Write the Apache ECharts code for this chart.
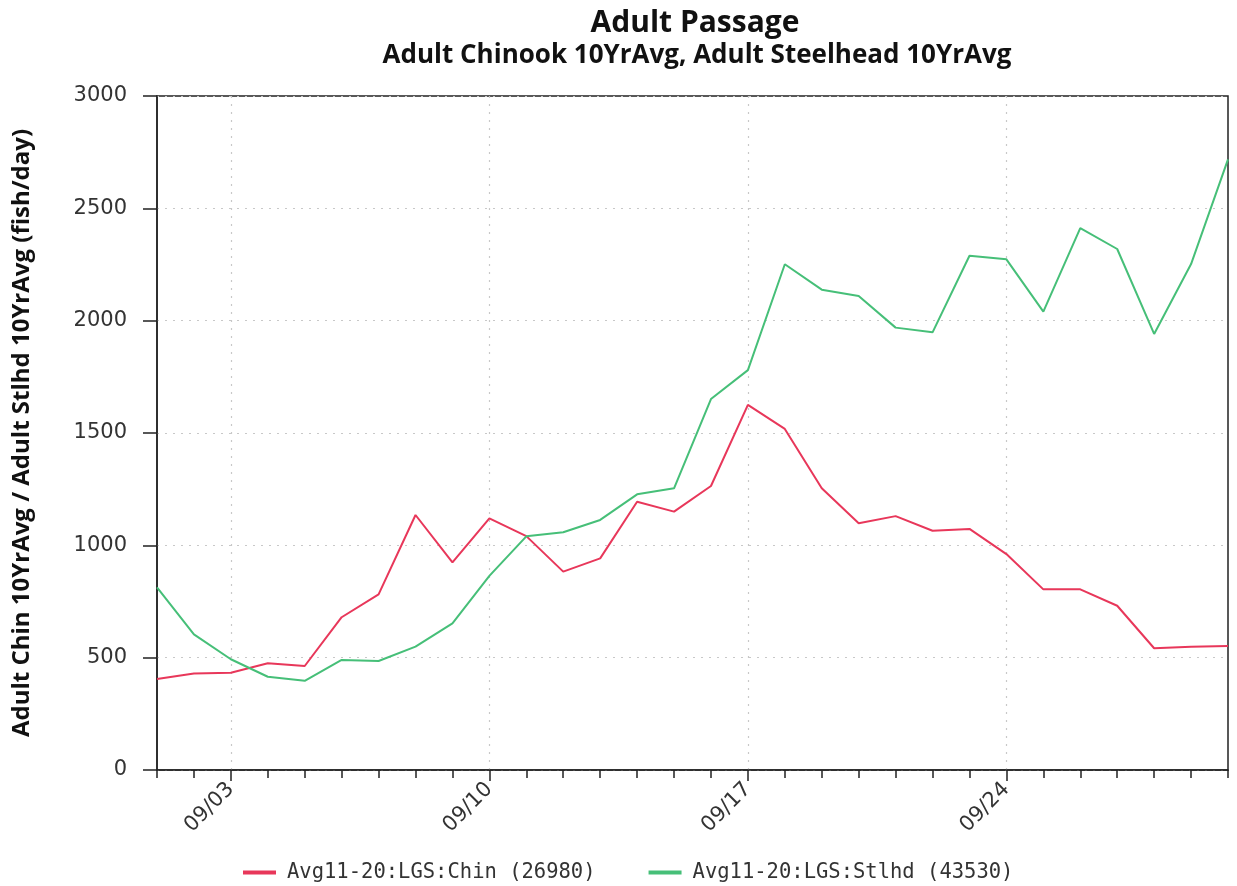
<!DOCTYPE html>
<html>
<head>
<meta charset="utf-8">
<script src="https://cdn.jsdelivr.net/npm/echarts@6/dist/echarts.min.js"></script>
<style>
html,body{margin:0;padding:0;background:#fff;}
#chart{width:1237px;height:886px;}
</style>
</head>
<body>
<div id="chart"></div>
<script>
var categories = ['09/01','09/02','09/03','09/04','09/05','09/06','09/07','09/08','09/09','09/10',
  '09/11','09/12','09/13','09/14','09/15','09/16','09/17','09/18','09/19','09/20',
  '09/21','09/22','09/23','09/24','09/25','09/26','09/27','09/28','09/29','09/30'];
var chinook = [405,430,433,475,463,680,782,1135,924,1120,
  1041,883,942,1194,1150,1264,1625,1518,1254,1098,
  1130,1065,1073,961,804,804,731,542,549,552];
var steelhead = [813,604,493,415,397,490,485,549,653,864,
  1040,1058,1113,1227,1254,1651,1780,2251,2138,2110,
  1969,1948,2289,2273,2040,2412,2319,1941,2252,2718];
var seriesNames = ['Avg11-20:LGS:Chin (26980)', 'Avg11-20:LGS:Stlhd (43530)'];
var yTicks = {min: 0, max: 3000, interval: 500};

var labelEvery = function (i) { return i % 7 === 2; };
var chart = echarts.init(document.getElementById('chart'), null, {renderer: 'canvas'});
var tickFont = 'DejaVu Sans';
var monoFont = 'DejaVu Sans Mono';
var titleFont = 'Open Sans';
chart.setOption({
  animation: false,
  backgroundColor: '#ffffff',
  title: [
    {text: 'Adult Passage', left: 690, top: 3, textAlign: 'center',
     textStyle: {fontFamily: titleFont, fontWeight: 'bold', fontSize: 30, color: '#111'}},
    {text: 'Adult Chinook 10YrAvg, Adult Steelhead 10YrAvg', left: 692, top: 38, textAlign: 'center',
     textStyle: {fontFamily: titleFont, fontWeight: 'bold', fontSize: 26, color: '#111'}}
  ],
  legend: {
    left: 243, top: 862, padding: 0, itemWidth: 33, itemHeight: 4, itemGap: 53, icon: 'rect',
    textStyle: {fontFamily: monoFont, fontSize: 20.5, color: '#333', padding: [0, 0, 0, 6]},
    data: seriesNames
  },
  grid: {left: 157, right: 9, top: 96, bottom: 116, show: true, borderColor: '#222', borderWidth: 1.5,
    containLabel: false, outerBoundsMode: 'none'},
  xAxis: [{
    type: 'category', data: categories, boundaryGap: false,
    axisLine: {show: true, lineStyle: {color: '#222', width: 1.5}},
    axisTick: {show: true, interval: 0, length: 8, lineStyle: {color: '#222', width: 1.5}},
    axisLabel: {interval: labelEvery, rotate: 45, fontFamily: tickFont, fontSize: 21, color: '#333', margin: 16},
    splitLine: {show: true, interval: labelEvery, lineStyle: {color: '#c8c8c8', type: [2, 6], width: 1.2}}
  }, {
    type: 'category', data: categories, boundaryGap: false, position: 'bottom',
    axisLine: {show: false},
    axisTick: {show: true, interval: labelEvery, length: 11, lineStyle: {color: '#222', width: 1.5}},
    axisLabel: {show: false}, splitLine: {show: false}
  }],
  yAxis: {
    type: 'value', min: yTicks.min, max: yTicks.max, interval: yTicks.interval,
    name: 'Adult Chin 10YrAvg / Adult Stlhd 10YrAvg (fish/day)',
    nameLocation: 'middle', nameRotate: 90, nameGap: 123,
    nameTextStyle: {fontFamily: titleFont, fontWeight: 'bold', fontSize: 24, color: '#111'},
    axisLine: {show: true, lineStyle: {color: '#222', width: 1.5}},
    axisTick: {show: true, length: 14, lineStyle: {color: '#222', width: 1.5}},
    axisLabel: {fontFamily: tickFont, fontSize: 21, color: '#333', margin: 30,
      formatter: function (v) { return String(v); }},
    splitLine: {show: true, lineStyle: {color: '#c8c8c8', type: [2, 6], width: 1.2}}
  },
  series: [
    {name: seriesNames[0], type: 'line', data: chinook, xAxisIndex: 0, symbol: 'none',
     lineStyle: {color: '#e8375a', width: 2}, itemStyle: {color: '#e8375a'}},
    {name: seriesNames[1], type: 'line', data: steelhead, xAxisIndex: 0, symbol: 'none',
     lineStyle: {color: '#46bf78', width: 2}, itemStyle: {color: '#46bf78'}}
  ]
});
</script>
</body>
</html>
